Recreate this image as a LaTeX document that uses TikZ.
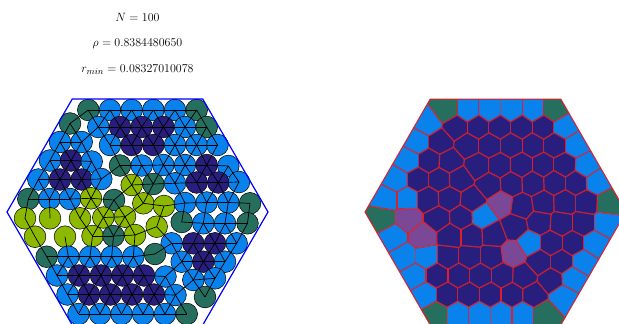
\documentclass[tikz,border=0pt]{standalone}
\definecolor{cgreen}{RGB}{38,110,94}
\definecolor{cblue}{RGB}{10,130,235}
\definecolor{cnavy}{RGB}{40,30,125}
\definecolor{cyel}{RGB}{140,185,0}
\definecolor{cpurp}{RGB}{122,72,150}
\definecolor{cred}{RGB}{225,30,40}
\definecolor{hexblue}{RGB}{0,0,255}
\def\pts{88.3/110/cgreen/cgreen, 110/110/cblue/cblue, 131.7/110/cblue/cblue, 153.3/110/cblue/cblue, 175/110/cblue/cblue, 196.7/110/cgreen/cgreen,
70/123.5/cgreen/cblue, 98.3/127/cblue/cnavy, 120/127/cnavy/cnavy, 141.7/127/cnavy/cnavy, 163.3/127/cnavy/cnavy, 185/127/cblue/cnavy, 206.7/127/cgreen/cblue,
60/142/cblue/cblue, 81.7/142/cblue/cnavy, 110/145/cblue/cnavy, 131.7/145/cnavy/cnavy, 153.3/145/cnavy/cnavy, 175/145/cblue/cnavy, 196.7/145/cblue/cnavy, 217.5/145/cblue/cblue,
50/160.5/cblue/cblue, 71/160.5/cnavy/cnavy, 91.7/161.5/cblue/cnavy, 120/165.5/cgreen/cnavy, 141.7/165.5/cblue/cnavy, 163.3/165/cblue/cnavy, 185/165/cblue/cnavy, 206.7/165/cnavy/cnavy, 228.3/166/cblue/cblue,
38.3/179.5/cblue/cblue, 60/179.5/cnavy/cnavy, 81.7/179.5/cnavy/cnavy, 101.3/179/cblue/cnavy, 131.7/185/cyel/cnavy, 153.3/184/cgreen/cnavy, 175/183.3/cblue/cnavy, 196.7/182.5/cnavy/cnavy, 218.3/182.5/cnavy/cnavy, 239/182/cblue/cblue,
28.3/199/cgreen/cblue, 49.5/199/cblue/cblue, 70/199/cblue/cnavy, 91/198.3/cyel/cnavy, 114/200/cgreen/cnavy, 143.3/203.3/cyel/cpurp, 164/206/cyel/cnavy, 185/203/cblue/cnavy, 206.7/202.5/cblue/cnavy, 228.3/202.5/cblue/cnavy, 250/203.3/cgreen/cgreen,
25/218.3/cyel/cgreen, 50/218.3/cyel/cpurp, 80/218.3/cyel/cnavy, 103.3/217.5/cyel/cnavy, 125/216.7/cyel/cblue, 156.7/226.7/cyel/cnavy, 181.7/222/cgreen/cnavy, 203.3/223.3/cblue/cnavy, 225/223.3/cblue/cnavy, 247.5/223.3/cgreen/cblue,
35/236.7/cyel/cblue, 65/236.7/cyel/cpurp, 92.5/236/cyel/cnavy, 113.5/236/cgreen/cnavy, 135/235/cyel/cnavy, 171.7/243.3/cblue/cblue, 193.3/243.3/cnavy/cnavy, 215/243.3/cnavy/cnavy, 236.7/243.3/cblue/cblue,
46.7/256.7/cgreen/cblue, 68.3/256.7/cblue/cblue, 90/256.7/cblue/cnavy, 111.7/256.7/cblue/cnavy, 133.3/256.7/cblue/cnavy, 155/254/cgreen/cpurp, 181.7/261.7/cblue/cnavy, 203.3/261.7/cnavy/cnavy, 225/261.7/cblue/cblue,
57/275.5/cblue/cblue, 79/275.5/cnavy/cnavy, 101/275.5/cnavy/cnavy, 122.5/275.5/cnavy/cnavy, 144/275.5/cnavy/cnavy, 165.5/276.5/cblue/cnavy, 193.3/280/cblue/cnavy, 215/278.3/cblue/cblue,
67.5/294.5/cblue/cblue, 89/294.5/cnavy/cnavy, 110.5/294.5/cnavy/cnavy, 132/294.5/cnavy/cnavy, 154/294.5/cnavy/cnavy, 175.5/295/cblue/cnavy, 205/297/cgreen/cblue,
78.5/314/cblue/cgreen, 100/314/cblue/cblue, 121.5/314/cblue/cblue, 143/314/cblue/cblue, 165/314/cblue/cblue, 186.7/314/cgreen/cgreen}
\def\hexpath{(7,212) -- (72.25,99) -- (202.75,99) -- (268,212) -- (202.75,325) -- (72.25,325) -- cycle}
\tikzset{
  disk/.style={draw=black, line width=0.5pt},
  contact/.style={draw=black, line width=0.7pt},
  wall/.style={draw=hexblue, line width=1.2pt},
  vedge/.style={draw=cred, line width=1.2pt},
  lbl/.style={anchor=base, inner sep=0pt, font=\fontsize{12.5}{15}\selectfont}
}
\begin{document}
\begin{tikzpicture}[x=1pt,y=-1pt]
\useasboundingbox[fill=white] (0,0) rectangle (619,324);
% labels
\node[lbl] (tN) at (137.5,21.7) {$N = 100$};
\node[lbl] (trho) at (137.5,46.7) {$\rho = 0.8384480650$};
\node[lbl] (tr) at (137.5,72.7) {$r_{min} = 0.08327010078$};
% ---- left: packing ----
\foreach \x/\y/\cl/\cr in \pts {
  \path[disk, fill=\cl] (\x,\y) circle[radius=10.85];
}
\foreach \xi/\yi/\cl/\cr [count=\i] in \pts {
  \foreach \xj/\yj/\aa/\bb [count=\j] in \pts {
    \ifnum\j>\i\relax
      \pgfmathsetmacro\dd{veclen(\xj-\xi,\yj-\yi)}
      \ifdim\dd pt<23.3pt
        \draw[contact] (\xi,\yi) -- (\xj,\yj);
      \fi
    \fi
  }
}
\path[wall] \hexpath;
% ---- right: Voronoi ----
\begin{scope}[xshift=358pt]
\foreach \xi/\yi/\cl/\cr [count=\i] in \pts {
  \begin{scope}
    \clip \hexpath;
    \foreach \xj/\yj/\aa/\bb [count=\j] in \pts {
      \ifnum\i=\j\relax\else
        \pgfmathsetmacro\dd{veclen(\xj-\xi,\yj-\yi)}
        \ifdim\dd pt<56pt
          \pgfmathsetmacro\ux{(\xj-\xi)/\dd}
          \pgfmathsetmacro\uy{(\yj-\yi)/\dd}
          \pgfmathsetmacro\mx{(\xi+\xj)/2}
          \pgfmathsetmacro\my{(\yi+\yj)/2}
          \clip ({\mx-200*(\uy)},{\my+200*(\ux)}) -- ({\mx+200*(\uy)},{\my-200*(\ux)}) -- ({\mx+200*(\uy)-200*(\ux)},{\my-200*(\ux)-200*(\uy)}) -- ({\mx-200*(\uy)-200*(\ux)},{\my+200*(\ux)-200*(\uy)}) -- cycle;
        \fi
      \fi
    }
    \fill[\cr] (0,90) rectangle (280,330);
    \foreach \xj/\yj/\aa/\bb [count=\j] in \pts {
      \ifnum\i=\j\relax\else
        \pgfmathsetmacro\dd{veclen(\xj-\xi,\yj-\yi)}
        \ifdim\dd pt<56pt
          \pgfmathsetmacro\ux{(\xj-\xi)/\dd}
          \pgfmathsetmacro\uy{(\yj-\yi)/\dd}
          \pgfmathsetmacro\mx{(\xi+\xj)/2}
          \pgfmathsetmacro\my{(\yi+\yj)/2}
          \draw[vedge] ({\mx-200*(\uy)},{\my+200*(\ux)}) -- ({\mx+200*(\uy)},{\my-200*(\ux)});
        \fi
      \fi
    }
  \end{scope}
}
\path[draw=cred, line width=1pt] \hexpath;
\end{scope}
\end{tikzpicture}
\end{document}
